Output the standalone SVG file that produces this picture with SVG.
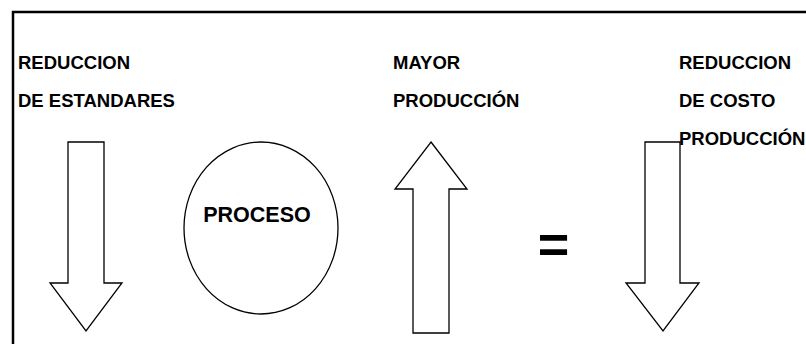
<svg xmlns="http://www.w3.org/2000/svg" width="806" height="344" viewBox="0 0 806 344">
<style>
.lbl{font-family:"Liberation Sans",Arial,sans-serif;font-weight:bold;font-size:18.5px;fill:#000}
.shape{fill:#fff;stroke:#000;stroke-width:1.3}
</style>
<rect width="806" height="344" fill="#fff"/>
<path d="M13,346 V12 H808" fill="none" stroke="#000" stroke-width="2.5"/>
<g id="arrow-left">
<polygon class="shape" points="68,142 104,142 104,283 122,283 86,331 50,283 68,283"/>
</g>
<g id="node-proceso">
<ellipse class="shape" cx="261" cy="228" rx="77" ry="86"/>
<text class="lbl" x="257" y="222" text-anchor="middle" style="font-size:21.5px">PROCESO</text>
</g>
<g id="arrow-up">
<polygon class="shape" points="431,142 467,189 449,189 449,333 413,333 413,189 395,189"/>
</g>
<g id="arrow-right">
<polygon class="shape" points="645,142 680,142 680,283 699,283 663,331 626,283 645,283"/>
</g>
<g id="labels">
<text class="lbl" x="18" y="69">REDUCCION</text>
<text class="lbl" x="18" y="107">DE ESTANDARES</text>
<text class="lbl" x="393" y="69">MAYOR</text>
<text class="lbl" x="393" y="107">PRODUCCIÓN</text>
<text class="lbl" x="679" y="69">REDUCCION</text>
<text class="lbl" x="679" y="107">DE COSTO</text>
<text class="lbl" x="679" y="145">PRODUCCIÓN</text>
<text class="lbl" x="553.5" y="263" text-anchor="middle" style="font-size:54px">=</text>
</g>
</svg>
